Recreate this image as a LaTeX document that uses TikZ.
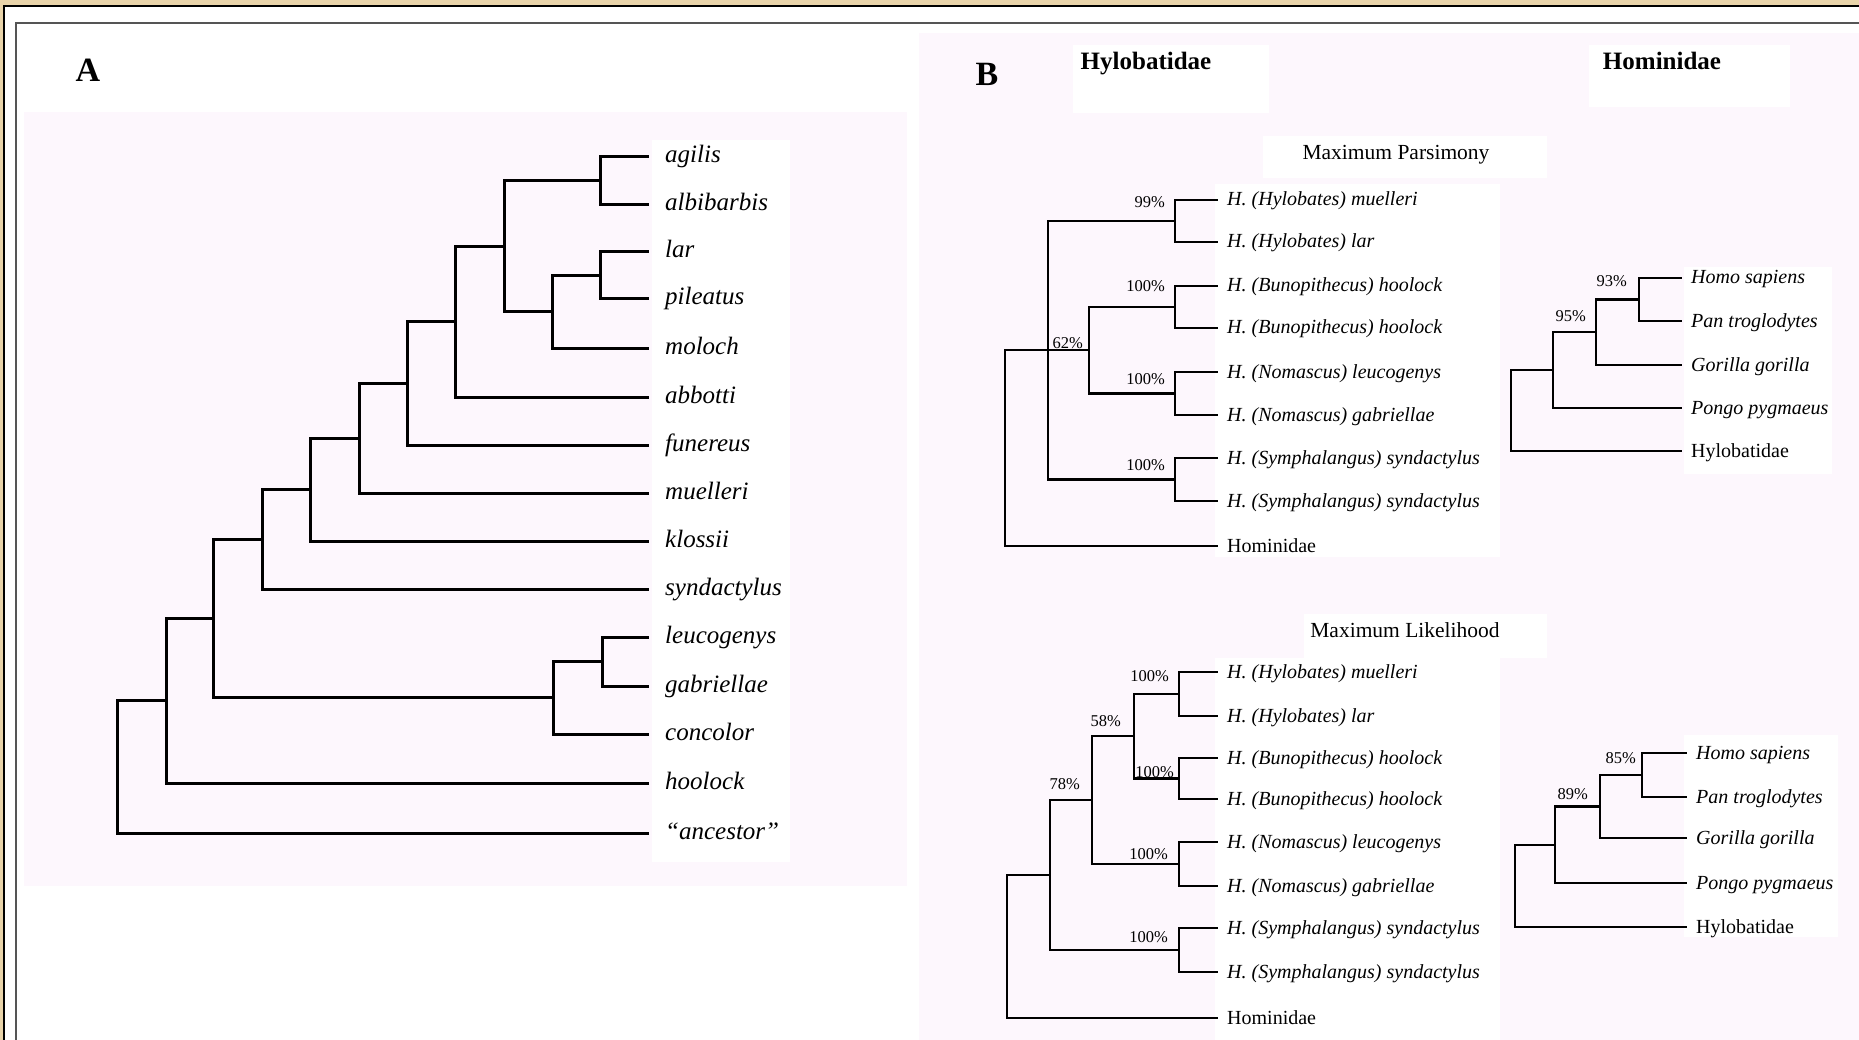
\documentclass[tikz,border=0pt]{standalone}
\usepackage{fontspec}
\setmainfont{Liberation Serif}
\definecolor{bgtan}{RGB}{233,212,170}
\definecolor{bgpink}{RGB}{253,247,253}
\definecolor{framegray}{RGB}{85,85,85}
\tikzset{
  brA/.style={line width=3pt},
  brB/.style={line width=2.2pt},
  leafA/.style={anchor=west, inner xsep=16pt, inner ysep=0pt, text height=17pt, text depth=5pt, font=\fontsize{25}{30}\selectfont\itshape},
  leafB/.style={anchor=west, inner xsep=9pt, inner ysep=0pt, text height=15pt, text depth=3pt, font=\fontsize{20}{24}\selectfont\itshape},
  leafBr/.style={leafB, font=\fontsize{20}{24}\selectfont\upshape},
  pct/.style={anchor=base east, inner sep=0pt, font=\fontsize{16.5}{18}\selectfont},
  panel/.style={anchor=base, inner sep=0pt, font=\fontsize{34}{40}\selectfont\bfseries},
  hdr/.style={anchor=base, inner sep=0pt, font=\fontsize{25}{30}\selectfont\bfseries},
  ttl/.style={anchor=base, inner sep=0pt, font=\fontsize{21.5}{26}\selectfont},
}
\begin{document}
\begin{tikzpicture}[x=1pt,y=-1pt]
\useasboundingbox (0,0) rectangle (1859,1040);
% backgrounds
\fill[white] (0,0) rectangle (1859,1040);
\fill[bgpink] (24,112) rectangle (907,886);
\fill[white] (652,140) rectangle (790,862);
\fill[bgpink] (919,33) rectangle (1859,1040);
\fill[white] (1073,45) rectangle (1269,113);
\fill[white] (1589,45) rectangle (1790,107);
\fill[white] (1263,136) rectangle (1547,178);
\fill[white] (1215,184) rectangle (1500,557);
\fill[white] (1684,267) rectangle (1832,474);
\fill[white] (1304,614) rectangle (1547,658);
\fill[white] (1215,658) rectangle (1500,1040);
\fill[white] (1684,735) rectangle (1838,937);
% frame
\fill[bgtan] (0,0) rectangle (1859,5);
\fill[bgtan] (0,0) rectangle (3,1040);
\fill[black] (3,5) rectangle (1859,7);
\fill[black] (3,5) rectangle (5,1040);
\fill[framegray] (15,22) rectangle (1859,24);
\fill[framegray] (15,22) rectangle (17,1040);

% ---------------- Panel A ----------------
\node[panel] (labA) at (88,82) {A};
\node[leafA] (agilis) at (649,157) {agilis};
\node[leafA] (albibarbis) at (649,205) {albibarbis};
\node[leafA] (lar) at (649,252) {lar};
\node[leafA] (pileatus) at (649,299) {pileatus};
\node[leafA] (moloch) at (649,348) {moloch};
\node[leafA] (abbotti) at (649,397) {abbotti};
\node[leafA] (funereus) at (649,445) {funereus};
\node[leafA] (muelleri) at (649,493) {muelleri};
\node[leafA] (klossii) at (649,541) {klossii};
\node[leafA] (syndactylus) at (649,589) {syndactylus};
\node[leafA] (leucogenys) at (649,637) {leucogenys};
\node[leafA] (gabriellae) at (649,686) {gabriellae};
\node[leafA] (concolor) at (649,734) {concolor};
\node[leafA] (hoolock) at (649,783) {hoolock};
\node[leafA] (ancestor) at (649,833) {“ancestor”};

\coordinate (aa) at (600,181);
\coordinate (lp) at (600,275.5);
\coordinate (lpm) at (552,311.75);
\coordinate (g1) at (504,246.4);
\coordinate (g2) at (455,321.7);
\coordinate (g3) at (407,383.3);
\coordinate (g4) at (359,438.2);
\coordinate (g5) at (310,489.6);
\coordinate (g6) at (262,539.3);
\coordinate (lg) at (602,661.5);
\coordinate (nm) at (553,697.75);
\coordinate (g7) at (213,618.5);
\coordinate (g8) at (166,700.8);
\coordinate (rt) at (117,766.9);

\draw[brA] (aa) |- (agilis.west);
\draw[brA] (aa) |- (albibarbis.west);
\draw[brA] (lp) |- (lar.west);
\draw[brA] (lp) |- (pileatus.west);
\draw[brA] (lpm) |- (lp);
\draw[brA] (lpm) |- (moloch.west);
\draw[brA] (g1) |- (aa);
\draw[brA] (g1) |- (lpm);
\draw[brA] (g2) |- (g1);
\draw[brA] (g2) |- (abbotti.west);
\draw[brA] (g3) |- (g2);
\draw[brA] (g3) |- (funereus.west);
\draw[brA] (g4) |- (g3);
\draw[brA] (g4) |- (muelleri.west);
\draw[brA] (g5) |- (g4);
\draw[brA] (g5) |- (klossii.west);
\draw[brA] (g6) |- (g5);
\draw[brA] (g6) |- (syndactylus.west);
\draw[brA] (lg) |- (leucogenys.west);
\draw[brA] (lg) |- (gabriellae.west);
\draw[brA] (nm) |- (lg);
\draw[brA] (nm) |- (concolor.west);
\draw[brA] (g7) |- (g6);
\draw[brA] (g7) |- (nm);
\draw[brA] (g8) |- (g7);
\draw[brA] (g8) |- (hoolock.west);
\draw[brA] (rt) |- (g8);
\draw[brA] (rt) |- (ancestor.west);

% ---------------- Panel B headers ----------------
\node[panel] (labB) at (987,86) {B};
\node[hdr] (hHyl) at (1146,70) {Hylobatidae};
\node[hdr] (hHom) at (1662,70) {Hominidae};
\node[ttl] (tMP) at (1396,160) {Maximum Parsimony};
\node[ttl] (tML) at (1405,637) {Maximum Likelihood};

% ---------------- MP Hylobatidae tree ----------------
\node[leafB] (mpMu) at (1218,200) {H. (Hylobates) muelleri};
\node[leafB] (mpLa) at (1218,242) {H. (Hylobates) lar};
\node[leafB] (mpH1) at (1218,286) {H. (Bunopithecus) hoolock};
\node[leafB] (mpH2) at (1218,328) {H. (Bunopithecus) hoolock};
\node[leafB] (mpLe) at (1218,372) {H. (Nomascus) leucogenys};
\node[leafB] (mpGa) at (1218,415) {H. (Nomascus) gabriellae};
\node[leafB] (mpS1) at (1218,458) {H. (Symphalangus) syndactylus};
\node[leafB] (mpS2) at (1218,501) {H. (Symphalangus) syndactylus};
\node[leafBr] (mpHo) at (1218,546) {Hominidae};

\coordinate (mpHy) at (1175,221);
\coordinate (mpBu) at (1175,307);
\coordinate (mpNo) at (1175,393.5);
\coordinate (mpSy) at (1175,479.5);
\coordinate (mpBN) at (1089,350.25);
\coordinate (mpTri) at (1048,350.25);
\coordinate (mpRt) at (1005,448.1);

\draw[brB] (mpHy) |- (mpMu.west);
\draw[brB] (mpHy) |- (mpLa.west);
\draw[brB] (mpBu) |- (mpH1.west);
\draw[brB] (mpBu) |- (mpH2.west);
\draw[brB] (mpNo) |- (mpLe.west);
\draw[brB] (mpNo) |- (mpGa.west);
\draw[brB] (mpSy) |- (mpS1.west);
\draw[brB] (mpSy) |- (mpS2.west);
\draw[brB] (mpBN) |- (mpBu);
\draw[brB] (mpBN) |- (mpNo);
\draw[brB] (mpTri) |- (mpHy);
\draw[brB] (mpTri) -- (mpBN);
\draw[brB] (mpTri) |- (mpSy);
\draw[brB] (mpRt) |- (mpTri);
\draw[brB] (mpRt) |- (mpHo.west);

\node[pct] (mp99) at (1165,208) {99\%};
\node[pct] (mp100a) at (1165,292) {100\%};
\node[pct] (mp100b) at (1165,384) {100\%};
\node[pct] (mp100c) at (1165,470) {100\%};
\node[pct] (mp62) at (1083,348) {62\%};

% ---------------- MP Hominidae tree ----------------
\node[leafB] (mhHomo) at (1682,278) {Homo sapiens};
\node[leafB] (mhPan) at (1682,321) {Pan troglodytes};
\node[leafB] (mhGor) at (1682,365) {Gorilla gorilla};
\node[leafB] (mhPon) at (1682,408) {Pongo pygmaeus};
\node[leafBr] (mhHyl) at (1682,451) {Hylobatidae};

\coordinate (mhHP) at (1639,299.5);
\coordinate (mhHPG) at (1596,332.25);
\coordinate (mhHPGP) at (1553,370.1);
\coordinate (mhRt) at (1511,410.6);

\draw[brB] (mhHP) |- (mhHomo.west);
\draw[brB] (mhHP) |- (mhPan.west);
\draw[brB] (mhHPG) |- (mhHP);
\draw[brB] (mhHPG) |- (mhGor.west);
\draw[brB] (mhHPGP) |- (mhHPG);
\draw[brB] (mhHPGP) |- (mhPon.west);
\draw[brB] (mhRt) |- (mhHPGP);
\draw[brB] (mhRt) |- (mhHyl.west);

\node[pct] (mh93) at (1627,287) {93\%};
\node[pct] (mh95) at (1586,322) {95\%};

% ---------------- ML Hylobatidae tree ----------------
\node[leafB] (mlMu) at (1218,672) {H. (Hylobates) muelleri};
\node[leafB] (mlLa) at (1218,716) {H. (Hylobates) lar};
\node[leafB] (mlH1) at (1218,758) {H. (Bunopithecus) hoolock};
\node[leafB] (mlH2) at (1218,799) {H. (Bunopithecus) hoolock};
\node[leafB] (mlLe) at (1218,842) {H. (Nomascus) leucogenys};
\node[leafB] (mlGa) at (1218,886) {H. (Nomascus) gabriellae};
\node[leafB] (mlS1) at (1218,928) {H. (Symphalangus) syndactylus};
\node[leafB] (mlS2) at (1218,972) {H. (Symphalangus) syndactylus};
\node[leafBr] (mlHo) at (1218,1018) {Hominidae};

\coordinate (mlHy) at (1179,694);
\coordinate (mlBu) at (1179,778.5);
\coordinate (mlHB) at (1134,736.25);
\coordinate (mlNo) at (1179,864);
\coordinate (mlHBN) at (1092,800.1);
\coordinate (mlSy) at (1179,950);
\coordinate (mlBig) at (1050,875.1);
\coordinate (mlRt) at (1007,946.5);

\draw[brB] (mlHy) |- (mlMu.west);
\draw[brB] (mlHy) |- (mlLa.west);
\draw[brB] (mlBu) |- (mlH1.west);
\draw[brB] (mlBu) |- (mlH2.west);
\draw[brB] (mlHB) |- (mlHy);
\draw[brB] (mlHB) |- (mlBu);
\draw[brB] (mlNo) |- (mlLe.west);
\draw[brB] (mlNo) |- (mlGa.west);
\draw[brB] (mlHBN) |- (mlHB);
\draw[brB] (mlHBN) |- (mlNo);
\draw[brB] (mlSy) |- (mlS1.west);
\draw[brB] (mlSy) |- (mlS2.west);
\draw[brB] (mlBig) |- (mlHBN);
\draw[brB] (mlBig) |- (mlSy);
\draw[brB] (mlRt) |- (mlBig);
\draw[brB] (mlRt) |- (mlHo.west);

\node[pct] (ml100a) at (1169,681) {100\%};
\node[pct] (ml58) at (1121,726) {58\%};
\node[pct] (ml100b) at (1174,777) {100\%};
\node[pct] (ml78) at (1080,789) {78\%};
\node[pct] (ml100c) at (1168,859) {100\%};
\node[pct] (ml100d) at (1168,942) {100\%};

% ---------------- ML Hominidae tree ----------------
\node[leafB] (mhlHomo) at (1687,753) {Homo sapiens};
\node[leafB] (mhlPan) at (1687,797) {Pan troglodytes};
\node[leafB] (mhlGor) at (1687,838) {Gorilla gorilla};
\node[leafB] (mhlPon) at (1687,883) {Pongo pygmaeus};
\node[leafBr] (mhlHyl) at (1687,927) {Hylobatidae};

\coordinate (mhlHP) at (1642,775);
\coordinate (mhlHPG) at (1600,806.5);
\coordinate (mhlHPGP) at (1555,844.75);
\coordinate (mhlRt) at (1515,885.9);

\draw[brB] (mhlHP) |- (mhlHomo.west);
\draw[brB] (mhlHP) |- (mhlPan.west);
\draw[brB] (mhlHPG) |- (mhlHP);
\draw[brB] (mhlHPG) |- (mhlGor.west);
\draw[brB] (mhlHPGP) |- (mhlHPG);
\draw[brB] (mhlHPGP) |- (mhlPon.west);
\draw[brB] (mhlRt) |- (mhlHPGP);
\draw[brB] (mhlRt) |- (mhlHyl.west);

\node[pct] (mh85) at (1636,763) {85\%};
\node[pct] (mh89) at (1588,799) {89\%};
\end{tikzpicture}
\end{document}
